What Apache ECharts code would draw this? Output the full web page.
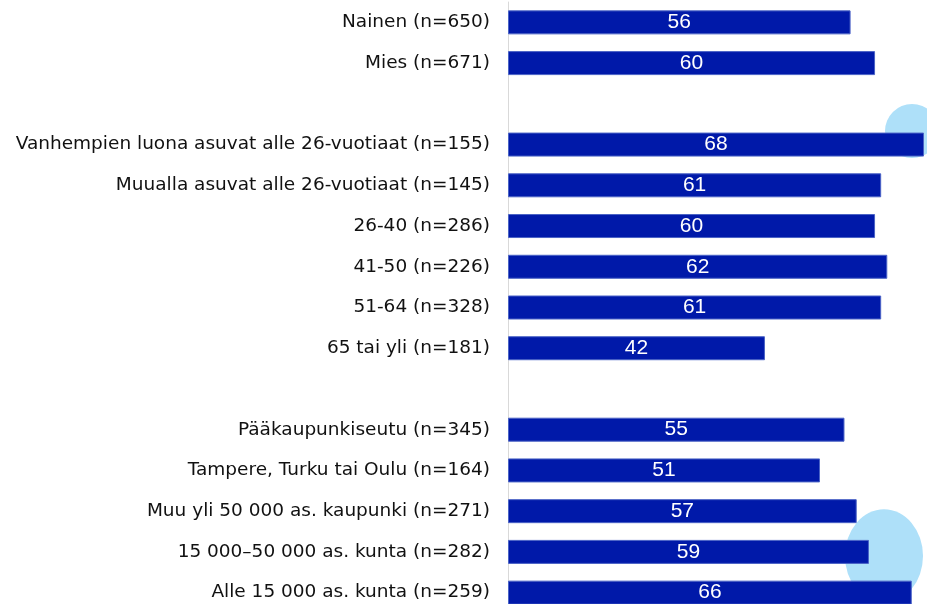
<!DOCTYPE html>
<html>
<head>
<meta charset="utf-8">
<script src="https://cdn.jsdelivr.net/npm/echarts@6/dist/echarts.min.js"></script>
<style>
html, body { margin: 0; padding: 0; background: #fff; }
#graph { width: 927px; height: 604px; }
</style>
</head>
<body>
<div id="graph"></div>
<script>
// blank rows are the gaps between groups
var categories = [
    'Nainen (n=650)',
    'Mies (n=671)',
    ' ',
    'Vanhempien luona asuvat alle 26-vuotiaat (n=155)',
    'Muualla asuvat alle 26-vuotiaat (n=145)',
    '26-40 (n=286)',
    '41-50 (n=226)',
    '51-64 (n=328)',
    '65 tai yli (n=181)',
    '  ',
    'Pääkaupunkiseutu (n=345)',
    'Tampere, Turku tai Oulu (n=164)',
    'Muu yli 50 000 as. kaupunki (n=271)',
    '15 000–50 000 as. kunta (n=282)',
    'Alle 15 000 as. kunta (n=259)'
];
var values = [56, 60, '-', 68, 61, 60, 62, 61, 42, '-', 55, 51, 57, 59, 66];

var dom = document.getElementById('graph');
var chart = echarts.init(dom);

chart.setOption({
    animation: false,
    graphic: [
        {
            type: 'circle',
            shape: { cx: 912, cy: 131, r: 27 },
            style: { fill: '#aee0f9' },
            z: 0
        },
        {
            type: 'circle',
            x: 884, y: 556,
            scaleY: 1.2,
            shape: { cx: 0, cy: 0, r: 39 },
            style: { fill: '#aee0f9' },
            z: 0
        }
    ],
    grid: {
        left: 508,
        right: 3,
        top: 2,
        bottom: -9,
        outerBoundsMode: 'none'
    },
    xAxis: {
        type: 'value',
        min: 0,
        max: 68,
        show: false
    },
    yAxis: {
        type: 'category',
        inverse: true,
        data: categories,
        axisLine: { show: true, lineStyle: { color: '#d9d9d9', width: 1 } },
        axisTick: { show: false },
        axisLabel: {
            margin: 18,
            color: '#111',
            fontSize: 18.5,
            fontFamily: 'DejaVu Sans, sans-serif'
        }
    },
    series: [
        {
            type: 'bar',
            data: values,
            barWidth: 24,
            z: 5,
            itemStyle: {
                color: '#0019a9',
                borderColor: '#4a63c6',
                borderWidth: 1
            },
            label: {
                show: true,
                position: 'inside',
                color: '#fff',
                fontSize: 21,
                fontFamily: 'Liberation Sans, Arial, sans-serif'
            }
        }
    ]
}, true);
</script>
</body>
</html>
